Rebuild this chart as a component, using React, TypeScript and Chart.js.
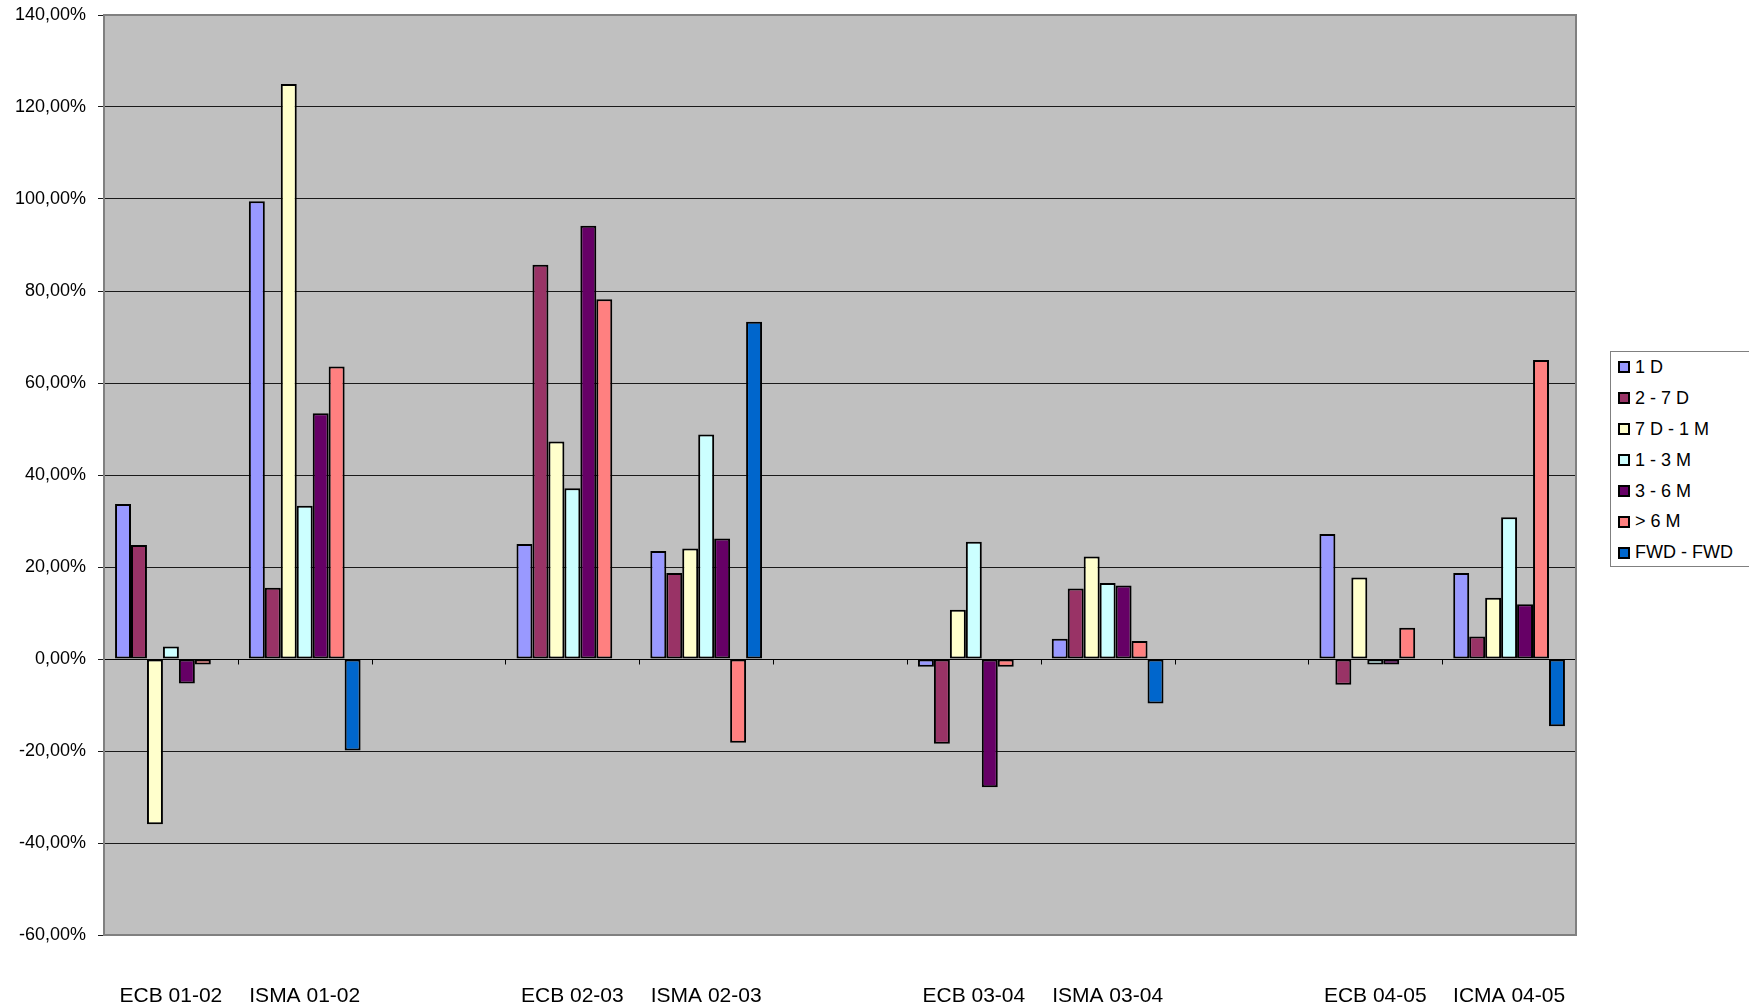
import React, { useEffect, useRef } from "react";
import { Chart, registerables } from "chart.js";

Chart.register(...registerables);

const categories = [
  "ECB 01-02",
  "ISMA 01-02",
  "",
  "ECB 02-03",
  "ISMA 02-03",
  "",
  "ECB 03-04",
  "ISMA 03-04",
  "",
  "ECB 04-05",
  "ICMA 04-05",
];

const seriesNames = ["1 D", "2 - 7 D", "7 D - 1 M", "1 - 3 M", "3 - 6 M", "> 6 M", "FWD - FWD"];
const seriesColors = ["#9999FF", "#993366", "#FFFFCC", "#CCFFFF", "#660066", "#FF8080", "#0066CC"];

const d1D = [33.7, 99.5, null, 25.0, 23.5, null, -1.7, 4.4, null, 27.2, 18.7];
const d2to7D = [24.8, 15.5, null, 85.7, 18.7, null, -18.4, 15.3, null, -5.6, 4.9];
const d7Dto1M = [-35.9, 125.0, null, 47.3, 24.0, null, 10.7, 22.3, null, 17.7, 13.3];
const d1to3M = [2.7, 33.3, null, 37.1, 48.8, null, 25.5, 16.5, null, -1.2, 30.8];
const d3to6M = [-5.3, 53.4, null, 94.2, 26.2, null, -27.9, 16.0, null, -1.2, 11.9];
const dOver6M = [-1.2, 63.6, null, 78.2, -18.2, null, -1.7, 3.9, null, 6.8, 65.0];
const dFwdFwd = [null, -19.9, null, null, 73.3, null, null, -9.7, null, null, -14.6];

const seriesData = [d1D, d2to7D, d7Dto1M, d1to3M, d3to6M, dOver6M, dFwdFwd];

const yMin = -60;
const yMax = 140;
const yStep = 20;

const FONT = "'Liberation Sans', Arial, Helvetica, sans-serif";

const plotPlugin = {
  id: "plotDecor",
  beforeDraw(chart: any) {
    const { ctx, chartArea } = chart;
    ctx.save();
    ctx.fillStyle = "#C0C0C0";
    ctx.fillRect(chartArea.left, chartArea.top, chartArea.right - chartArea.left, chartArea.bottom - chartArea.top);
    ctx.restore();
  },
  afterDatasetsDraw(chart: any) {
    const { ctx, chartArea } = chart;
    const x = chart.scales.x;
    const y = chart.scales.y;
    const y0 = Math.round(y.getPixelForValue(0)) + 0.5;
    ctx.save();
    ctx.strokeStyle = "#000";
    ctx.lineWidth = 1;
    ctx.beginPath();
    ctx.moveTo(chartArea.left, y0);
    ctx.lineTo(chartArea.right, y0);
    for (let i = 0; i <= categories.length; i++) {
      const px = Math.round(x.getPixelForValue(i - 0.5)) + 0.5;
      ctx.moveTo(px, y0);
      ctx.lineTo(px, y0 + 5);
    }
    ctx.stroke();
    ctx.strokeStyle = "#808080";
    ctx.lineWidth = 2;
    ctx.strokeRect(chartArea.left, chartArea.top, chartArea.right - chartArea.left, chartArea.bottom - chartArea.top);
    ctx.restore();
  },
};

export default function App() {
  const canvasRef = useRef<HTMLCanvasElement | null>(null);

  useEffect(() => {
    document.body.style.margin = "0";
    const canvas = canvasRef.current;
    if (!canvas) return;
    const chart = new Chart(canvas, {
      type: "bar",
      data: {
        labels: categories,
        datasets: seriesNames.map((name, i) => ({
          label: name,
          data: seriesData[i],
          backgroundColor: seriesColors[i],
          borderColor: "#000",
          borderWidth: 2,
          borderSkipped: false,
          categoryPercentage: 0.835,
          barPercentage: 1.0,
        })),
      },
      options: {
        responsive: false,
        animation: false,
        layout: { padding: { top: 15, right: 173, bottom: 0, left: 0 } },
        plugins: {
          legend: { display: false },
          tooltip: { enabled: false },
        },
        scales: {
          x: {
            grid: { display: false, drawTicks: false },
            border: { display: false },
            ticks: {
              color: "#000",
              font: { family: FONT, size: 21 },
              padding: 49,
              maxRotation: 0,
              autoSkip: false,
            },
            afterFit: (s: any) => {
              s.height = 73;
              s.paddingLeft = 0;
              s.paddingRight = 0;
            },
          },
          y: {
            min: yMin,
            max: yMax,
            grid: {
              color: "#1a1a1a",
              lineWidth: 1,
              drawTicks: true,
              tickLength: 6,
            },
            border: { display: false },
            ticks: {
              stepSize: yStep,
              color: "#000",
              font: { family: FONT, size: 18 },
              padding: 12,
              callback: (v: any) => Number(v).toFixed(2).replace(".", ",") + "%",
            },
            afterFit: (s: any) => {
              s.width = 104;
              s.paddingTop = 0;
              s.paddingBottom = 0;
            },
          },
        },
      },
      plugins: [plotPlugin],
    });
    return () => chart.destroy();
  }, []);

  return (
    <div style={{ position: "relative", width: 1749, height: 1008, background: "#fff", overflow: "hidden" }}>
      <canvas ref={canvasRef} width={1749} height={1008} style={{ display: "block" }} />
      <div
        style={{
          position: "absolute",
          left: 1610,
          top: 351,
          width: 150,
          height: 216,
          border: "1px solid #808080",
          boxSizing: "border-box",
          background: "#fff",
          fontFamily: FONT,
          fontSize: 18,
          color: "#000",
          paddingTop: 0,
        }}
      >
        {seriesNames.map((name, i) => (
          <div key={name} style={{ display: "flex", alignItems: "center", height: 30.9, paddingLeft: 7 }}>
            <span
              style={{
                display: "inline-block",
                width: 12,
                height: 12,
                boxSizing: "border-box",
                border: "2px solid #000",
                background: seriesColors[i],
                marginRight: 5,
              }}
            />
            <span>{name}</span>
          </div>
        ))}
      </div>
    </div>
  );
}
